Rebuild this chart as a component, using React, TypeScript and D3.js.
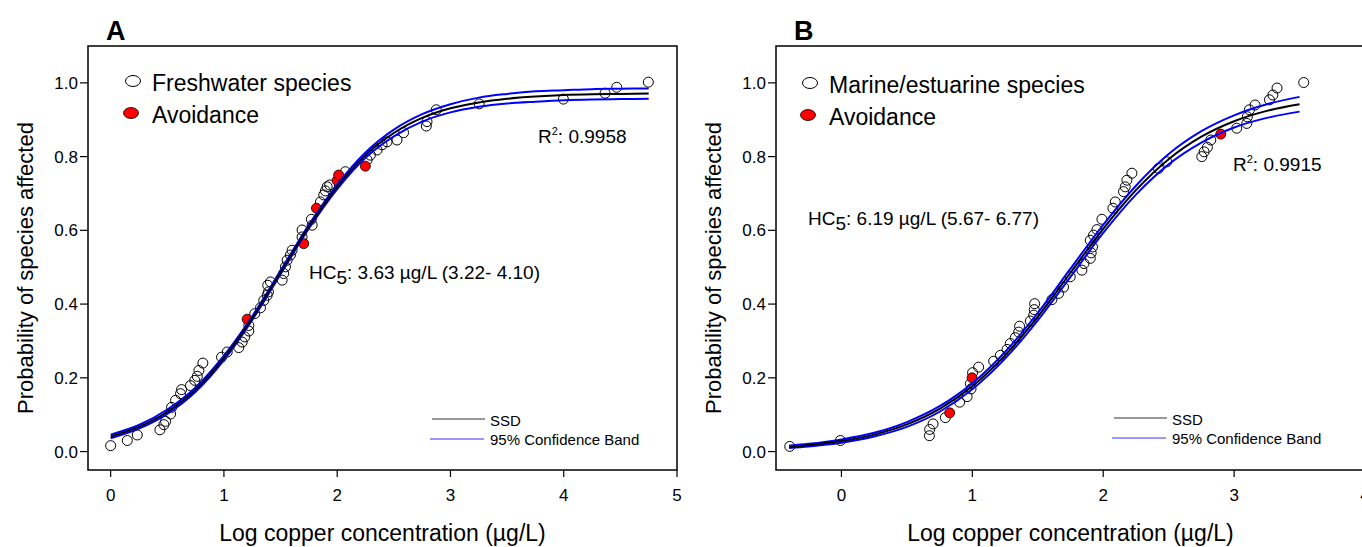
import React from "react";
import * as d3 from "d3";

// ---------- Panel A data (log10 µg/L, probability) ----------
const freshwaterPts: [number, number][] = [
  [0.0, 0.016], [0.147, 0.03], [0.235, 0.045], [0.435, 0.059], [0.47, 0.073], [0.485, 0.082],
  [0.529, 0.102], [0.538, 0.12], [0.573, 0.139], [0.617, 0.157], [0.626, 0.168], [0.705, 0.179],
  [0.743, 0.193], [0.765, 0.204], [0.779, 0.22], [0.814, 0.24], [0.979, 0.256], [1.029, 0.27],
  [1.131, 0.282], [1.161, 0.297], [1.184, 0.311], [1.22, 0.327], [1.22, 0.342], [1.272, 0.374],
  [1.323, 0.39], [1.352, 0.41], [1.382, 0.424], [1.393, 0.433], [1.387, 0.451], [1.411, 0.46],
  [1.514, 0.465], [1.528, 0.483], [1.543, 0.501], [1.558, 0.519], [1.587, 0.533], [1.602, 0.546],
  [1.69, 0.582], [1.69, 0.601], [1.779, 0.614], [1.772, 0.63], [1.852, 0.677], [1.881, 0.696],
  [1.896, 0.707], [1.911, 0.718], [1.934, 0.723], [2.072, 0.759], [2.264, 0.791], [2.293, 0.804],
  [2.352, 0.818], [2.396, 0.832], [2.44, 0.84], [2.528, 0.845], [2.586, 0.865], [2.787, 0.883],
  [2.793, 0.895], [2.875, 0.927], [3.254, 0.943], [3.997, 0.956], [4.365, 0.972], [4.468, 0.988],
  [4.747, 1.002],
];
const avoidanceA: [number, number][] = [
  [1.205, 0.359], [1.705, 0.564], [1.817, 0.66], [1.999, 0.735], [2.013, 0.75], [2.249, 0.774],
];
const curveXA = [0, 0.25, 0.5, 0.75, 1.0, 1.25, 1.5, 1.75, 2.0, 2.25, 2.5, 2.75, 3.0, 3.25, 3.5, 3.75, 4.0, 4.25, 4.5, 4.75];
const ssdA = [0.041, 0.067, 0.108, 0.168, 0.254, 0.362, 0.486, 0.61, 0.718, 0.804, 0.864, 0.905, 0.931, 0.947, 0.957, 0.963, 0.967, 0.969, 0.97, 0.971];
const upperA = [0.046, 0.072, 0.114, 0.174, 0.26, 0.367, 0.491, 0.615, 0.724, 0.811, 0.873, 0.915, 0.942, 0.96, 0.97, 0.977, 0.98, 0.983, 0.984, 0.985];
const lowerA = [0.036, 0.062, 0.102, 0.162, 0.248, 0.357, 0.481, 0.605, 0.712, 0.797, 0.855, 0.895, 0.92, 0.935, 0.944, 0.949, 0.953, 0.955, 0.956, 0.957];
const xTicksA = [0, 1, 2, 3, 4, 5];

// ---------- Panel B data ----------
const marinePts: [number, number][] = [
  [-0.395, 0.014], [-0.008, 0.03], [0.672, 0.043], [0.674, 0.06], [0.7, 0.075], [0.794, 0.092],
  [0.903, 0.134], [0.96, 0.149], [0.99, 0.17], [0.985, 0.184], [1.002, 0.214], [1.048, 0.229],
  [1.163, 0.245], [1.214, 0.261], [1.265, 0.277], [1.29, 0.293], [1.328, 0.309], [1.354, 0.324],
  [1.361, 0.34], [1.443, 0.354], [1.469, 0.37], [1.473, 0.385], [1.476, 0.401], [1.608, 0.412],
  [1.659, 0.429], [1.697, 0.446], [1.748, 0.474], [1.837, 0.492], [1.853, 0.51], [1.901, 0.524],
  [1.908, 0.539], [1.918, 0.555], [1.901, 0.573], [1.926, 0.587], [1.952, 0.602], [1.99, 0.63],
  [2.074, 0.66], [2.092, 0.677], [2.155, 0.705], [2.168, 0.718], [2.181, 0.736], [2.219, 0.755],
  [2.422, 0.768], [2.486, 0.786], [2.753, 0.8], [2.771, 0.813], [2.796, 0.825], [2.822, 0.845],
  [3.02, 0.877], [3.097, 0.89], [3.101, 0.908], [3.117, 0.927], [3.16, 0.94], [3.27, 0.954],
  [3.296, 0.967], [3.328, 0.986], [3.532, 1.001],
];
const avoidanceB: [number, number][] = [
  [0.827, 0.105], [0.998, 0.2], [2.898, 0.861],
];
const curveXB = [-0.4, -0.25, 0, 0.25, 0.5, 0.75, 1.0, 1.25, 1.5, 1.75, 2.0, 2.25, 2.5, 2.75, 3.0, 3.25, 3.5];
const ssdB = [0.013, 0.0174, 0.0284, 0.046, 0.0736, 0.1156, 0.177, 0.261, 0.366, 0.485, 0.604, 0.709, 0.793, 0.854, 0.896, 0.924, 0.942];
const upperB = [0.016, 0.021, 0.033, 0.051, 0.08, 0.123, 0.185, 0.27, 0.376, 0.496, 0.615, 0.721, 0.807, 0.869, 0.912, 0.942, 0.962];
const lowerB = [0.01, 0.014, 0.024, 0.041, 0.067, 0.108, 0.169, 0.252, 0.356, 0.474, 0.593, 0.697, 0.779, 0.838, 0.879, 0.905, 0.922];
const xTicksB = [0, 1, 2, 3, 4];

const yTicks = [0, 0.2, 0.4, 0.6, 0.8, 1.0];

const FONT = "'Liberation Sans', Arial, sans-serif";

type PanelProps = {
  ox: number;
  letter: string;
  xDomain: [number, number];
  xTicks: number[];
  pts: [number, number][];
  red: [number, number][];
  cx: number[];
  ssd: number[];
  upper: number[];
  lower: number[];
  legendLabel: string;
  hcValue: string;
  hcPos: [number, number];
  r2: string;
  r2Pos: [number, number];
  legPos: [number, number];
  lineLeg: [number, number];
};

function Panel(p: PanelProps) {
  const left = p.ox;
  const right = p.ox + 589;
  const top = 46;
  const bottom = 470;
  const x = d3.scaleLinear().domain(p.xDomain).range([left, right]);
  const y = d3.scaleLinear().domain([-0.05, 1.1]).range([bottom, top]);
  const line = d3
    .line<number>()
    .x((_, i) => x(p.cx[i]))
    .y((v) => y(v))
    .curve(d3.curveMonotoneX);
  const [lx, ly] = p.legPos;
  const [sx, sy] = p.lineLeg;
  return (
    <g fontFamily={FONT}>
      <text x={left + 18} y={40} fontSize={27} fontWeight="bold">{p.letter}</text>
      {/* data points */}
      {p.pts.map((d, i) => (
        <circle key={"o" + i} cx={x(d[0])} cy={y(d[1])} r={5} fill="none" stroke="#000" strokeWidth={1} />
      ))}
      {p.red.map((d, i) => (
        <circle key={"r" + i} cx={x(d[0])} cy={y(d[1])} r={5} fill="#ff0000" stroke="#000" strokeWidth={0.8} />
      ))}
      {/* curves */}
      <path d={line(p.upper) || ""} fill="none" stroke="#0000ff" strokeWidth={2} />
      <path d={line(p.lower) || ""} fill="none" stroke="#0000ff" strokeWidth={2} />
      <path d={line(p.ssd) || ""} fill="none" stroke="#000" strokeWidth={2} />
      {/* frame */}
      <rect x={left} y={top} width={right - left} height={bottom - top} fill="none" stroke="#000" strokeWidth={1.5} />
      {/* y axis */}
      {yTicks.map((t) => (
        <g key={"y" + t}>
          <line x1={left - 8} x2={left} y1={y(t)} y2={y(t)} stroke="#000" strokeWidth={1.2} />
          <text x={left - 10} y={y(t) + 6} fontSize={17} textAnchor="end">{t.toFixed(1)}</text>
        </g>
      ))}
      {/* x axis */}
      {p.xTicks.map((t) => (
        <g key={"x" + t}>
          <line x1={x(t)} x2={x(t)} y1={bottom} y2={bottom + 7} stroke="#000" strokeWidth={1.2} />
          <text x={x(t)} y={501} fontSize={17} textAnchor="middle">{t}</text>
        </g>
      ))}
      <text x={(left + right) / 2} y={541} fontSize={23} textAnchor="middle">
        Log copper concentration (µg/L)
      </text>
      <text
        transform={`translate(${left - 55},${(top + bottom) / 2 + 10}) rotate(-90)`}
        fontSize={22}
        textAnchor="middle"
      >
        Probability of species affected
      </text>
      {/* symbol legend */}
      <ellipse cx={lx} cy={ly} rx={7.5} ry={5.5} fill="#fff" stroke="#000" strokeWidth={1} />
      <text x={lx + 19} y={ly + 10} fontSize={23}>{p.legendLabel}</text>
      <ellipse cx={lx - 2} cy={ly + 32} rx={7.5} ry={5.5} fill="#ff0000" stroke="#000" strokeWidth={0.8} />
      <text x={lx + 19} y={ly + 42} fontSize={23}>Avoidance</text>
      {/* annotations */}
      <text x={p.hcPos[0]} y={p.hcPos[1]} fontSize={19}>
        HC<tspan dy={5}>5</tspan><tspan dy={-5}>{": " + p.hcValue}</tspan>
      </text>
      <text x={p.r2Pos[0]} y={p.r2Pos[1]} fontSize={19}>
        R<tspan dy={-8} fontSize={11}>2</tspan><tspan dy={8}>{": " + p.r2}</tspan>
      </text>
      {/* line legend */}
      <line x1={sx} x2={sx + 53} y1={sy} y2={sy} stroke="#333" strokeWidth={1} />
      <text x={sx + 58} y={sy + 7} fontSize={15}>SSD</text>
      <line x1={sx - 2} x2={sx + 52} y1={sy + 20} y2={sy + 20} stroke="#3030ff" strokeWidth={1} />
      <text x={sx + 58} y={sy + 26} fontSize={15}>95% Confidence Band</text>
    </g>
  );
}

export default function App() {
  return (
    <svg width={1362} height={547} style={{ display: "block", position: "absolute", left: 0, top: 0, background: "#fff" }}>
      <rect x={0} y={0} width={1362} height={547} fill="#fff" />
      <Panel
        ox={88}
        letter="A"
        xDomain={[-0.2, 5]}
        xTicks={xTicksA}
        pts={freshwaterPts}
        red={avoidanceA}
        cx={curveXA}
        ssd={ssdA}
        upper={upperA}
        lower={lowerA}
        legendLabel="Freshwater species"
        hcValue="3.63 µg/L (3.22- 4.10)"
        hcPos={[309, 279]}
        r2="0.9958"
        r2Pos={[538, 143]}
        legPos={[133, 81]}
        lineLeg={[432, 419]}
      />
      <Panel
        ox={776}
        letter="B"
        xDomain={[-0.5, 4]}
        xTicks={xTicksB}
        pts={marinePts}
        red={avoidanceB}
        cx={curveXB}
        ssd={ssdB}
        upper={upperB}
        lower={lowerB}
        legendLabel="Marine/estuarine species"
        hcValue="6.19 µg/L (5.67- 6.77)"
        hcPos={[808, 225]}
        r2="0.9915"
        r2Pos={[1233, 171]}
        legPos={[810, 83]}
        lineLeg={[1114, 418]}
      />
    </svg>
  );
}
